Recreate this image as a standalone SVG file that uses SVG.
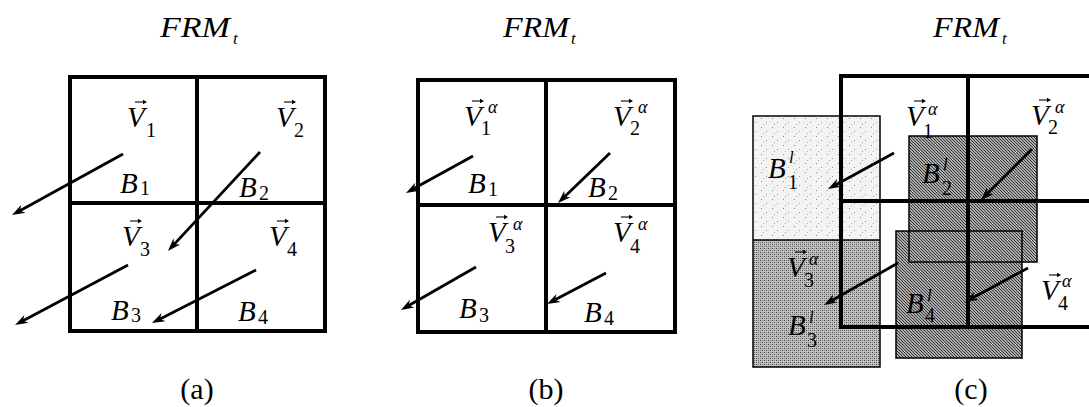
<svg xmlns="http://www.w3.org/2000/svg" xmlns:xlink="http://www.w3.org/1999/xlink" width="1089" height="407" viewBox="0 0 1089 407">
<style>
text{font-family:"Liberation Serif","Times New Roman","DejaVu Serif",serif;fill:#000}
.m{font-size:29px;font-style:italic}
.s{font-size:20px;font-style:normal}
.a{font-size:18px;font-style:italic}
.l{font-size:17px;font-style:italic}
.t{font-size:30px;font-style:italic}
.cap{font-size:30px;text-anchor:middle}
.grid{fill:none;stroke:#000;stroke-width:4}
.box{stroke:#000;stroke-width:1.5}
.arr{fill:none;stroke:#000;stroke-width:2.8;marker-end:url(#ah)}
</style>
<defs>
<marker id="ah" markerUnits="userSpaceOnUse" viewBox="-6 -6 16 12" refX="0" refY="0" markerWidth="16" markerHeight="12" orient="auto">
<path d="M8,0 L-5,-4.5 L-1,0 L-5,4.5 Z" fill="#000"/>
</marker>
<g id="vec"><path d="M0,0 H9" stroke="#000" stroke-width="1.1"/><path d="M12,0 L8,-2.3 L8,2.3 Z" fill="#000"/></g>
<pattern id="hatch" width="3" height="3" patternUnits="userSpaceOnUse">
<rect width="3" height="3" fill="#adadad"/>
<path d="M0,0 L3,3 M-1,2 L1,4 M2,-1 L4,1" stroke="#333" stroke-width="1"/>
</pattern>
<pattern id="mesh" width="4" height="4" patternUnits="userSpaceOnUse">
<rect width="4" height="4" fill="#c2c2c2"/>
<rect x="0" y="0" width="1" height="1" fill="#444"/>
<rect x="2" y="2" width="1" height="1" fill="#444"/>
<rect x="2" y="0" width="1" height="1" fill="#777"/>
<rect x="0" y="2" width="1" height="1" fill="#777"/>
</pattern>
<pattern id="speck" width="11" height="9" patternUnits="userSpaceOnUse">
<rect width="11" height="9" fill="#f3f3f3"/>
<rect x="2" y="1" width="1" height="1" fill="#888"/>
<rect x="7" y="5" width="1" height="1" fill="#999"/>
<rect x="4" y="7" width="1" height="1" fill="#aaa"/>
</pattern>
</defs>
<rect width="1089" height="407" fill="#fff"/>

<!-- Panel (a) -->
<g id="panel-a">
<text class="t" x="160" y="37" textLength="70" lengthAdjust="spacingAndGlyphs">FRM</text>
<text class="l" x="233" y="44">t</text>
<g id="a-grid"><rect class="grid" x="70" y="77" width="255" height="254"/><path class="grid" d="M197,77 V331 M70,203 H325"/></g>
<g id="a-B1"><use href="#vec" x="135" y="102"/><text class="m" x="127" y="127">V</text><text class="s" x="146" y="137">1</text><text class="m" x="120" y="193">B</text><text class="s" x="140" y="195">1</text></g>
<g id="a-B2"><use href="#vec" x="284" y="102"/><text class="m" x="276" y="127">V</text><text class="s" x="294" y="137">2</text><text class="m" x="239" y="197">B</text><text class="s" x="259" y="200">2</text></g>
<g id="a-B3"><use href="#vec" x="130" y="221"/><text class="m" x="122" y="246">V</text><text class="s" x="140" y="256">3</text><text class="m" x="111" y="320">B</text><text class="s" x="131" y="322">3</text></g>
<g id="a-B4"><use href="#vec" x="277" y="221"/><text class="m" x="269" y="246">V</text><text class="s" x="287" y="256">4</text><text class="m" x="238" y="321">B</text><text class="s" x="258" y="324">4</text></g>
<text class="cap" x="197" y="399">(a)</text>
</g>

<!-- Panel (b) -->
<g id="panel-b">
<text class="t" x="503" y="37" textLength="66" lengthAdjust="spacingAndGlyphs">FRM</text>
<text class="l" x="571" y="44">t</text>
<g id="b-grid"><rect class="grid" x="418" y="80" width="257" height="252"/><path class="grid" d="M546,80 V332 M418,205 H675"/></g>
<g id="b-B1"><use href="#vec" x="472" y="101"/><text class="m" x="464" y="126">V</text><text class="s" x="481" y="135">1</text><text class="a" x="488" y="113">α</text><text class="m" x="468" y="193">B</text><text class="s" x="488" y="196">1</text></g>
<g id="b-B2"><use href="#vec" x="621" y="101"/><text class="m" x="613" y="126">V</text><text class="s" x="630" y="135">2</text><text class="a" x="638" y="113">α</text><text class="m" x="588" y="197">B</text><text class="s" x="608" y="200">2</text></g>
<g id="b-B3"><use href="#vec" x="496" y="217"/><text class="m" x="488" y="242">V</text><text class="s" x="505" y="253">3</text><text class="a" x="513" y="230">α</text><text class="m" x="459" y="318">B</text><text class="s" x="479" y="322">3</text></g>
<g id="b-B4"><use href="#vec" x="621" y="217"/><text class="m" x="613" y="242">V</text><text class="s" x="630" y="253">4</text><text class="a" x="638" y="230">α</text><text class="m" x="584" y="322">B</text><text class="s" x="604" y="325">4</text></g>
<text class="cap" x="546" y="399">(b)</text>
</g>

<!-- Panel (c) -->
<g id="panel-c">
<text class="t" x="933" y="37" textLength="66" lengthAdjust="spacingAndGlyphs">FRM</text>
<text class="l" x="1002" y="44">t</text>
<g id="c-B1l"><rect x="753" y="116" width="127" height="124" fill="url(#speck)"/></g>
<g id="c-B3l"><rect x="753" y="240" width="127" height="127" fill="url(#mesh)"/></g>
<g id="c-B2l"><rect x="909" y="136" width="128" height="126" fill="url(#hatch)"/></g>
<g id="c-B4l"><rect x="896" y="231" width="126" height="127" fill="url(#hatch)"/></g>
<g id="c-boxes" fill="none">
<rect class="box" x="753" y="116" width="127" height="251"/><path class="box" d="M753,240 H880"/>
<rect class="box" x="909" y="136" width="128" height="126"/>
<rect class="box" x="896" y="231" width="126" height="127"/>
</g>
<g id="c-grid"><rect class="grid" x="841" y="76" width="254" height="251"/><path class="grid" d="M968,76 V327 M841,201 H1089"/></g>
<g id="c-V1"><use href="#vec" x="914" y="101"/><text class="m" x="906" y="126">V</text><text class="s" x="923" y="138">1</text><text class="a" x="928" y="115">α</text></g>
<g id="c-V2"><use href="#vec" x="1039" y="100"/><text class="m" x="1031" y="125">V</text><text class="s" x="1048" y="134">2</text><text class="a" x="1055" y="113">α</text></g>
<g id="c-V3"><use href="#vec" x="795" y="252"/><text class="m" x="787" y="277">V</text><text class="s" x="804" y="287">3</text><text class="a" x="809" y="265">α</text></g>
<g id="c-V4"><use href="#vec" x="1049" y="275"/><text class="m" x="1041" y="300">V</text><text class="s" x="1058" y="310">4</text><text class="a" x="1062" y="287">α</text></g>
<g id="c-lab"><text class="m" x="768" y="178">B</text><text class="l" x="789" y="163">l</text><text class="s" x="788" y="189">1</text>
<text class="m" x="922" y="183">B</text><text class="l" x="943" y="170">l</text><text class="s" x="942" y="195">2</text>
<text class="m" x="788" y="335">B</text><text class="l" x="809" y="323">l</text><text class="s" x="807" y="347">3</text>
<text class="m" x="906" y="313">B</text><text class="l" x="927" y="301">l</text><text class="s" x="925" y="322">4</text></g>
<text class="cap" x="971" y="399">(c)</text>
</g>

<g id="connectors">
<path class="arr" d="M123,154 L19,211.2"/>
<path class="arr" d="M260,152 L173.4,245.1"/>
<path class="arr" d="M128,265 L22.1,321.2"/>
<path class="arr" d="M256,270 L159.1,319.4"/>
<path class="arr" d="M473,156 L413,189.1"/>
<path class="arr" d="M610,153 L563.8,197.5"/>
<path class="arr" d="M476,267 L407.9,306"/>
<path class="arr" d="M606,273 L554.1,300.3"/>
<path class="arr" d="M894,153 L835,185.2"/>
<path class="arr" d="M1032,149 L986.7,194.3"/>
<path class="arr" d="M898,263 L831,301"/>
<path class="arr" d="M1028,268 L972,298.2"/>
</g>
</svg>
